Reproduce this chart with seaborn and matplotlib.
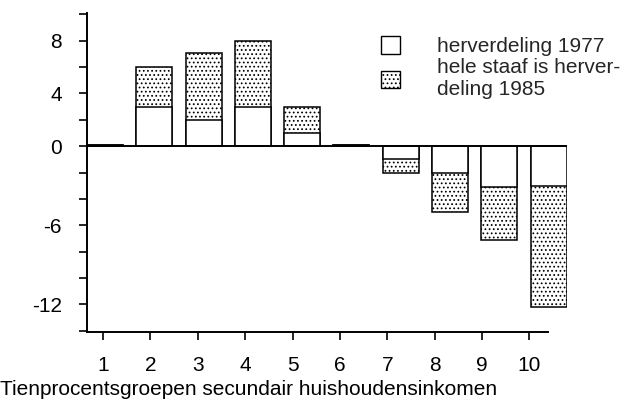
import matplotlib
matplotlib.use("Agg")
import matplotlib.pyplot as plt
from matplotlib.patches import Patch
import seaborn as sns
import pandas as pd

# Tienprocentsgroepen (decielen) en herverdeling
groups = ["1", "2", "3", "4", "5", "6", "7", "8", "9", "10"]
herverdeling_1977 = [0.12, 3, 2, 3, 1, 0.12, -1, -2, -3.1, -3]
herverdeling_1985 = [0.12, 6, 7.1, 8, 3, 0.12, -2.05, -5, -7.1, -12.2]
y_ticks = [10, 8, 6, 4, 2, 0, -2, -4, -6, -8, -10, -12, -14]
y_labels = ["", "8", "", "4", "", "0", "", "", "-6", "", "", "-12", ""]

sns.set_theme(style="ticks")
plt.rcParams["font.family"] = ["Liberation Sans", "DejaVu Sans"]
plt.rcParams["hatch.linewidth"] = 0.75

df = pd.DataFrame({"groep": groups, "h1977": herverdeling_1977, "h1985": herverdeling_1985})

fig = plt.figure(figsize=(6.24, 4.0), dpi=100)
ax = fig.add_axes([0.1394, 0.17, 0.7693, 0.7975])

# hele staaf = herverdeling 1985 (gestippeld), witte deel = 1977
sns.barplot(data=df, x="groep", y="h1985", order=groups, color="white", edgecolor="black",
            hatch="....", linewidth=1.1, width=0.73, errorbar=None, ax=ax, saturation=1)
sns.barplot(data=df, x="groep", y="h1977", order=groups, color="white", edgecolor="black",
            linewidth=1.1, width=0.73, errorbar=None, ax=ax, saturation=1)

ax.axhline(0, color="black", linewidth=1.4, zorder=5)

ax.set_xlim(-0.365, 9.372)
ax.set_ylim(-14.1, 10.1)
ax.set_yticks(y_ticks, y_labels)
ax.set_xticks([-0.04 + 0.961 * i for i in range(len(groups))], groups)

for s in ["top", "right"]:
    ax.spines[s].set_visible(False)
for s in ["left", "bottom"]:
    ax.spines[s].set_linewidth(1.4)
    ax.spines[s].set_color("black")
ax.spines["bottom"].set_bounds(-0.365, 8.985)
ax.spines["left"].set_bounds(-14.1, 10.1)

ax.tick_params(axis="both", colors="black", labelsize=15, width=1.2, length=6)
ax.tick_params(axis="x", pad=11)
ax.tick_params(axis="y", pad=12)

ax.set_ylabel("")
ax.set_xlabel("Tienprocentsgroepen secundair huishoudensinkomen", fontsize=15, color="black")
ax.xaxis.label.set_horizontalalignment("left")
ax.xaxis.set_label_coords(-0.1394 / 0.7693, -0.15)

handles = [Patch(facecolor="white", edgecolor="black", linewidth=1.0),
           Patch(facecolor="white", edgecolor="black", hatch="....", linewidth=1.0)]
ax.legend(handles, ["herverdeling 1977", "hele staaf is herver-\ndeling 1985"],
          loc="upper left", bbox_to_anchor=(371 / 624, 1 - 26 / 400), bbox_transform=fig.transFigure,
          frameon=False, fontsize=15, handlelength=0.9, handleheight=0.9, handletextpad=1.75,
          labelspacing=0.1, borderpad=0)

fig.savefig("out.png", dpi=100, facecolor="white")
